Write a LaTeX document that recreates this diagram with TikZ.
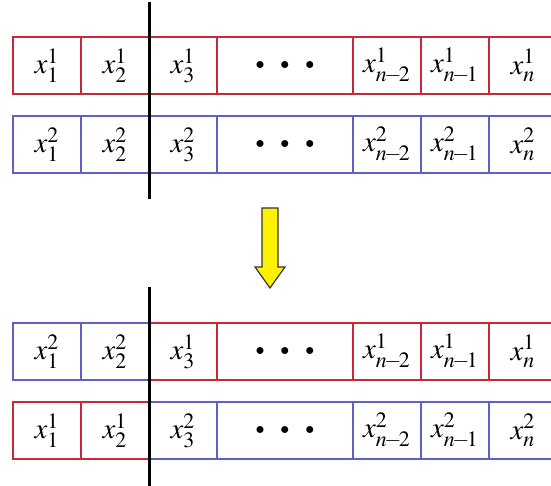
\documentclass[tikz,border=0pt]{standalone}
\usepackage{mathptmx}

\definecolor{cellred}{RGB}{200,40,60}
\definecolor{cellblue}{RGB}{95,95,205}

\begin{document}
\begin{tikzpicture}[x=0.5pt,y=-0.5pt,
  cell/.style={draw=#1,line width=0.6pt,minimum width=34pt,minimum height=28.5pt,inner sep=0pt,font=\Large},
  wide/.style={cell=#1,minimum width=68pt,font=\small},
  cut/.style={line width=1.5pt,black},
  swap arrow/.style={draw=black!80,fill=yellow,line width=0.6pt,line join=miter}]
\useasboundingbox (0,0) rectangle (551,486);
% rows: name / centre y / colour and parent of the two left cells / of the rest
\foreach \r/\y/\lc/\ls/\rc/\rs in {a/65.5/cellred/1/cellred/1,b/144.5/cellblue/2/cellblue/2,c/351.5/cellblue/2/cellred/1,d/430.5/cellred/1/cellblue/2}{
  \node[cell=\lc] (\r1) at (47,\y) {$x_1^{\ls}$};
  \node[cell=\lc] (\r2) at (115,\y) {$x_2^{\ls}$};
  \node[cell=\rc] (\r3) at (183,\y) {$x_3^{\rs}$};
  \node[wide=\rc] (\r4) at (285,\y) {$\bullet$\hspace{8pt}$\bullet$\hspace{8pt}$\bullet$};
  \node[cell=\rc] (\r5) at (387,\y) {$x_{n\!-\!2}^{\rs}$};
  \node[cell=\rc] (\r6) at (455,\y) {$x_{n\!-\!1}^{\rs}$};
  \node[cell=\rc] (\r7) at (523,\y) {$x_n^{\rs}$};
}
% crossover point
\draw[cut] ([yshift=17pt]a2.north east) -- ([yshift=-12.5pt]b2.south east);
\draw[cut] ([yshift=17.5pt]c2.north east) -- ([yshift=-14pt]d2.south east);
% block arrow between the two pairs
\draw[swap arrow] (262,208) -- (278,208) -- (278,267) -- (285,267) -- (270,288)
  -- (255,267) -- (262,267) -- cycle;
\end{tikzpicture}
\end{document}
